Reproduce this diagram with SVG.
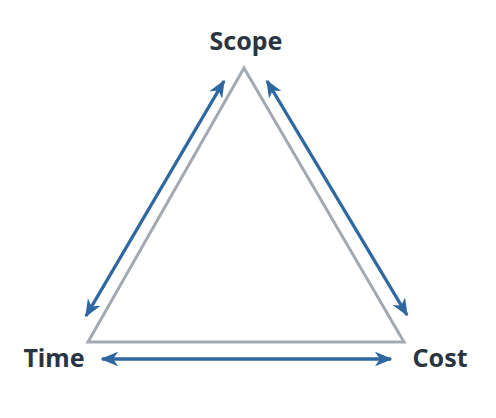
<svg xmlns="http://www.w3.org/2000/svg" width="496" height="418" viewBox="0 0 496 418">
<style>
.lbl{font-family:"Noto Sans","Open Sans","Liberation Sans",sans-serif;font-weight:700;font-size:25px;fill:#2b3541;text-anchor:middle}
.tri{fill:none;stroke:#a3a9b1;stroke-width:3;stroke-linejoin:miter}
.arr{stroke:#2f68a0;stroke-width:3.4;fill:none;marker-start:url(#ah);marker-end:url(#ah)}
</style>
<defs>
<marker id="ah" viewBox="0 0 12 10" refX="11" refY="5" markerWidth="5.2" markerHeight="4.4" orient="auto-start-reverse" markerUnits="strokeWidth">
<path d="M0,0 L12,5 L0,10 L3.5,5 z" fill="#2f68a0"/>
</marker>
</defs>
<rect width="496" height="418" fill="#ffffff"/>
<g id="triangle"><path class="tri" d="M244,68 L88,342 L404,342 Z"/></g>
<g id="connectors">
<line class="arr" x1="224" y1="81" x2="86" y2="316"/>
<line class="arr" x1="267" y1="81" x2="407" y2="315"/>
<line class="arr" x1="102" y1="359" x2="391" y2="359"/>
</g>
<g id="scope"><text class="lbl" x="246" y="50">Scope</text></g>
<g id="time"><text class="lbl" x="54" y="367">Time</text></g>
<g id="cost"><text class="lbl" x="440" y="367">Cost</text></g>
</svg>
